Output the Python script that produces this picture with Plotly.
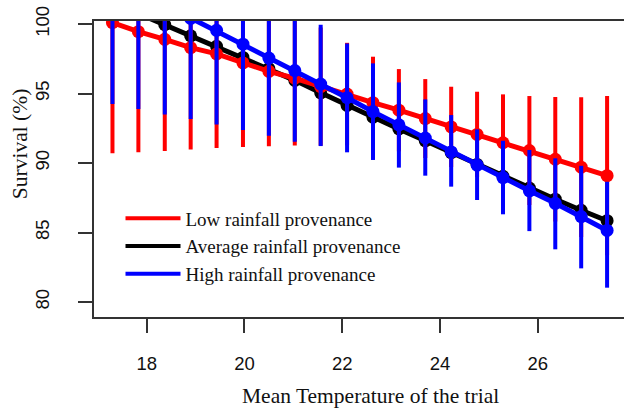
import plotly.graph_objects as go

# Mean temperature of the trial (x positions of the 20 predictions)
temperature = [17.30, 17.83, 18.37, 18.90, 19.43, 19.97, 20.50, 21.03, 21.56, 22.10,
               22.63, 23.16, 23.70, 24.23, 24.76, 25.29, 25.83, 26.36, 26.89, 27.42]

# Low rainfall provenance (red)
low_mean = [100.10, 99.45, 98.90, 98.30, 97.85, 97.20, 96.60, 96.10, 95.50, 94.96,
            94.34, 93.80, 93.20, 92.60, 92.06, 91.46, 90.90, 90.27, 89.70, 89.09]
low_lo = [90.70, 90.77, 90.86, 90.98, 91.08, 91.15, 91.20, 91.27, 91.25, 91.27,
          91.03, 90.84, 90.36, 89.71, 88.99, 87.98, 86.98, 85.79, 84.67, 83.36]
low_hi = [109.5, 108.1, 106.9, 105.6, 104.5, 103.3, 102.0, 100.9, 99.75, 98.65,
          97.65, 96.76, 96.04, 95.49, 95.13, 94.94, 94.82, 94.75, 94.73, 94.82]

# Average rainfall provenance (black)
avg_mean = [101.55, 100.75, 99.95, 99.15, 98.40, 97.60, 96.80, 95.95, 95.05, 94.15,
            93.30, 92.45, 91.60, 90.75, 89.90, 89.05, 88.20, 87.40, 86.60, 85.85]

# High rainfall provenance (blue)
high_mean = [103.30, 102.35, 101.40, 100.40, 99.55, 98.55, 97.55, 96.65, 95.68, 94.70,
             93.70, 92.75, 91.80, 90.80, 89.85, 88.95, 88.00, 87.10, 86.15, 85.15]
high_lo = [94.24, 93.88, 93.50, 93.17, 92.78, 92.37, 91.96, 91.53, 91.22, 90.77,
           90.22, 89.67, 89.09, 88.30, 87.34, 86.31, 85.10, 83.79, 82.42, 81.03]
high_hi = [112.4, 110.8, 109.3, 107.6, 106.1, 104.6, 103.1, 101.7, 99.95, 98.60,
           97.17, 95.80, 94.58, 93.45, 92.42, 91.60, 90.94, 90.34, 89.80, 88.65]

series_names = ["Low rainfall provenance", "Average rainfall provenance", "High rainfall provenance"]
x_ticks = [18, 20, 22, 24, 26]
y_ticks = [80, 85, 90, 95, 100]

RED, BLACK, BLUE = "#FF0000", "#000000", "#0000FF"
SERIF = "Liberation Serif, Times New Roman, serif"
SANS = "Liberation Sans, Arial, sans-serif"


def err(mean, lo, hi, color):
    return dict(type="data", symmetric=False,
                array=[h - m for m, h in zip(mean, hi)],
                arrayminus=[m - l for m, l in zip(mean, lo)],
                thickness=4, width=0, color=color)


fig = go.Figure()
fig.add_trace(go.Scatter(x=temperature, y=avg_mean, mode="lines+markers",
                         line=dict(color=BLACK, width=5), marker=dict(color=BLACK, size=13),
                         showlegend=False))
fig.add_trace(go.Scatter(x=temperature, y=low_mean, mode="lines+markers",
                         line=dict(color=RED, width=5), marker=dict(color=RED, size=13),
                         error_y=err(low_mean, low_lo, low_hi, RED), showlegend=False))
fig.add_trace(go.Scatter(x=temperature, y=high_mean, mode="lines+markers",
                         line=dict(color=BLUE, width=5), marker=dict(color=BLUE, size=13),
                         error_y=err(high_mean, high_lo, high_hi, BLUE), showlegend=False))

for name, col in zip(series_names, [RED, BLACK, BLUE]):
    fig.add_trace(go.Scatter(x=[None], y=[None], mode="lines", name=name,
                             line=dict(color=col, width=4), showlegend=True))

fig.update_layout(
    width=624, height=408,
    margin=dict(l=94, r=0, t=21, b=91, autoexpand=False),
    paper_bgcolor="white", plot_bgcolor="white",
    showlegend=True,
    legend=dict(x=0.05, y=0.397, xanchor="left", yanchor="top",
                font=dict(family=SERIF, size=19, color="#111111"),
                bgcolor="rgba(0,0,0,0)", itemwidth=55, tracegroupgap=0),
    xaxis=dict(range=[16.922, 27.766], tickvals=x_ticks, ticks="outside", ticklen=14,
               tickwidth=1.5, tickcolor="#333333", showgrid=False, zeroline=False,
               showline=True, mirror=True, linecolor="#333333", linewidth=1.5,
               automargin=False,
               tickfont=dict(family=SANS, size=18.5, color="#111111"),
               ticklabelstandoff=15),
    yaxis=dict(range=[78.92, 100.22], tickvals=y_ticks, ticks="outside", ticklen=14,
               tickwidth=1.5, tickcolor="#333333", showgrid=False, zeroline=False,
               showline=True, mirror=True, linecolor="#333333", linewidth=1.5,
               automargin=False, tickangle=-90, ticklabelstandoff=22,
               tickfont=dict(family=SANS, size=18.5, color="#111111")),
    annotations=[
        dict(text="Survival (%)", xref="paper", yref="paper",
             x=-0.1396, y=0.584, textangle=-90, showarrow=False,
             xanchor="center", yanchor="middle",
             font=dict(family=SERIF, size=21.5, color="#111111")),
        dict(text="Mean Temperature of the trial", xref="paper", yref="paper",
             x=0.5208, y=-0.2669, showarrow=False,
             xanchor="center", yanchor="middle",
             font=dict(family=SERIF, size=21.5, color="#111111")),
    ],
)

fig.write_html("out.html", config={"displayModeBar": False},
               post_script="document.body.style.margin='0';document.body.style.overflow='hidden';")
